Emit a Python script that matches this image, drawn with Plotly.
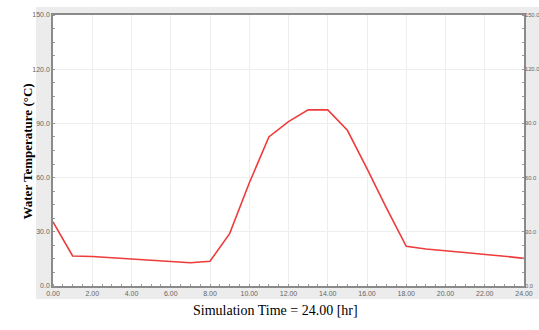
import plotly.graph_objects as go

hours = [0, 1, 2, 3, 4, 5, 6, 7, 8, 9, 10, 11, 12, 13, 14, 15, 16, 17, 18, 19, 20, 21, 22, 23, 24]
water_temp = [35.5, 16.6, 16.3, 15.6, 15.0, 14.4, 13.6, 12.9, 13.7, 29.0, 57.0, 82.5, 91.0, 97.5, 97.5,
              86.2, 65.0, 43.0, 22.0, 20.5, 19.5, 18.6, 17.6, 16.5, 15.3]
x_ticks = [0, 2, 4, 6, 8, 10, 12, 14, 16, 18, 20, 22, 24]
x_tick_labels = ["%.2f" % v for v in x_ticks]
y_ticks = [0, 30, 60, 90, 120, 150]
y_tick_labels = ["%.1f" % v for v in y_ticks]

W, H = 539, 330
L, R, T, B = 53, 15, 15, 44
pw, ph = W - L - R, H - T - B

fig = go.Figure()
fig.add_trace(go.Scatter(x=hours, y=water_temp, mode="lines",
                         line=dict(color="#ee3b3b", width=1.6), showlegend=False))
fig.add_trace(go.Scatter(x=hours, y=water_temp, yaxis="y2", mode="lines",
                         line=dict(color="rgba(0,0,0,0)", width=0), showlegend=False, hoverinfo="skip"))

tickfont = dict(family="Liberation Sans, Arial", size=7, color="#666666")
axis_common = dict(showline=True, linecolor="#8a8a8a", linewidth=1.5, gridcolor="#eeeeee",
                   gridwidth=1, zeroline=False, ticks="", tickfont=tickfont, automargin=False)

def px2paper_x(px):
    return (px - L) / pw

def px2paper_y(py):
    return 1 - (py - T) / ph

fig.update_layout(
    width=W, height=H,
    margin=dict(l=L, r=R, t=T, b=B, autoexpand=False),
    paper_bgcolor="white", plot_bgcolor="white",
    xaxis=dict(range=[0, 24], tickvals=x_ticks, ticktext=x_tick_labels, mirror=True,
               minor=dict(dtick=0.5, ticks="inside", ticklen=2, tickcolor="#999999", showgrid=False),
               **axis_common),
    yaxis=dict(range=[0, 150], tickvals=y_ticks, ticktext=y_tick_labels, mirror=True,
               minor=dict(dtick=7.5, ticks="inside", ticklen=2, tickcolor="#999999", showgrid=False),
               **axis_common),
    yaxis2=dict(range=[0, 150], tickvals=y_ticks, ticktext=y_tick_labels, overlaying="y", side="right",
                showline=True, linecolor="#8a8a8a", linewidth=1.5, showgrid=False, zeroline=False,
                ticks="", tickfont=dict(tickfont, size=5.8), automargin=False, ticklabelstandoff=-2,
                minor=dict(dtick=7.5, ticks="inside", ticklen=2, tickcolor="#999999")),
    shapes=[
        dict(type="rect", xref="paper", yref="paper", layer="below",
             x0=px2paper_x(36), x1=px2paper_x(545), y0=px2paper_y(299), y1=px2paper_y(7),
             fillcolor="#ececec", line=dict(width=0)),
        dict(type="rect", xref="paper", yref="paper", layer="below",
             x0=0, x1=1, y0=0, y1=1, fillcolor="white", line=dict(width=0)),
    ],
    annotations=[
        dict(text="<b>Water Temperature (°C)</b>", textangle=-90, xref="paper", yref="paper",
             x=px2paper_x(17), y=px2paper_y(152), showarrow=False,
             font=dict(family="Liberation Serif, Times New Roman", size=13, color="black")),
        dict(text="Simulation Time = 24.00 [hr]", xref="paper", yref="paper",
             x=px2paper_x(275), y=px2paper_y(320), showarrow=False,
             font=dict(family="Liberation Serif, Times New Roman", size=14, color="black")),
    ],
)

fig.write_html("out.html", config={"displayModeBar": False})

with open("out.html", "r", encoding="utf-8") as f:
    html = f.read()
html = html.replace("<head>", "<head><style>html,body{margin:0;padding:0;overflow:hidden;}</style>", 1)
with open("out.html", "w", encoding="utf-8") as f:
    f.write(html)
